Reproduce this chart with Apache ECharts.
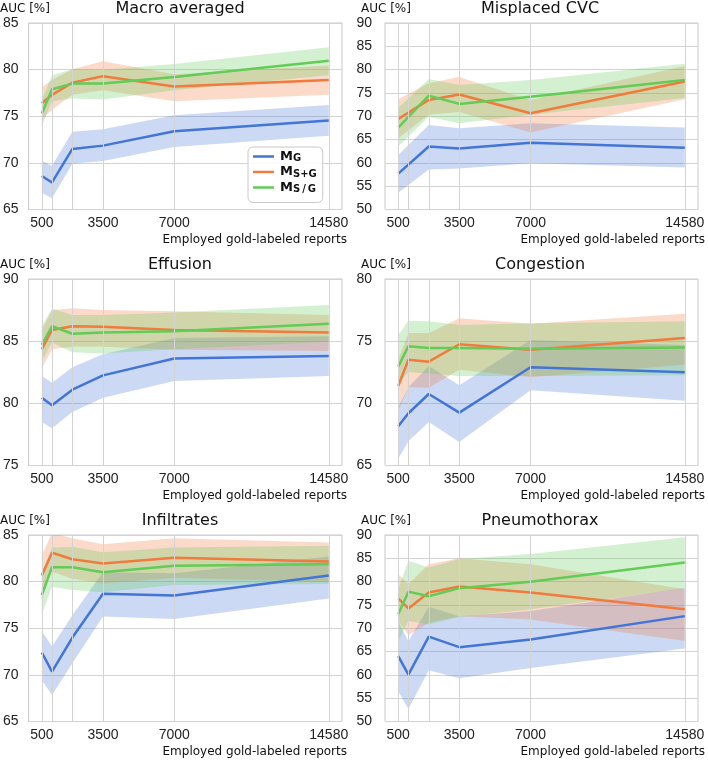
<!DOCTYPE html>
<html>
<head>
<meta charset="utf-8">
<script src="https://cdn.jsdelivr.net/npm/echarts@6/dist/echarts.min.js"></script>
<style>html,body{margin:0;padding:0;background:#fff}#c{width:708px;height:760px}</style>
</head>
<body>
<div id="c"></div>
<script>
// ---------- DATA ----------
const xFull = [500, 1000, 2000, 3500, 7000, 14580];
const xCVC = [500, 2000, 3500, 7000, 14580];
const xTickLabels = [500, 3500, 7000, 14580];
const xGridLines = [500, 1000, 2000, 3500, 7000, 14580];
const methodNames = ['M_G', 'M_S+G', 'M_S/G'];
const panelTitles = ['Macro averaged', 'Misplaced CVC', 'Effusion', 'Congestion', 'Infiltrates', 'Pneumothorax'];
const yRanges = [[65, 85], [50, 90], [75, 90], [65, 80], [65, 85], [50, 90]];

// Macro averaged
const macroG    = [68.6, 67.9, 71.5, 71.85, 73.4, 74.55];
const macroGLo  = [66.8, 66.2, 69.9, 70.2, 71.7, 72.9];
const macroGHi  = [70.2, 69.7, 73.35, 73.6, 75.1, 76.2];
const macroSG   = [76.4, 77.3, 78.6, 79.3, 78.2, 78.9];
const macroSGLo = [74.7, 75.7, 77.3, 77.8, 76.6, 77.3];
const macroSGHi = [78.1, 78.9, 80.05, 80.9, 79.5, 80.45];
const macroSdG   = [75.3, 77.9, 78.5, 78.5, 79.2, 80.95];
const macroSdGLo = [73.9, 76.6, 76.9, 76.8, 77.8, 79.4];
const macroSdGHi = [76.75, 79.4, 80.05, 80.0, 80.6, 82.4];

// Misplaced CVC (no 1000 point)
const cvcG    = [57.7, 63.5, 63.1, 64.3, 63.25];
const cvcGLo  = [53.6, 58.6, 58.8, 59.9, 59.0];
const cvcGHi  = [61.7, 68.1, 67.4, 68.5, 67.6];
const cvcSG   = [69.4, 73.5, 74.65, 70.65, 77.45];
const cvcSGLo = [65.3, 70.3, 70.9, 66.5, 73.65];
const cvcSGHi = [73.65, 77.1, 78.4, 73.5, 80.8];
const cvcSdG   = [67.55, 74.4, 72.65, 74.2, 77.8];
const cvcSdGLo = [63.5, 69.9, 68.5, 70.3, 73.9];
const cvcSdGHi = [71.7, 78.0, 76.7, 77.8, 81.25];

// Effusion
const effG    = [80.45, 79.85, 81.1, 82.25, 83.6, 83.8];
const effGLo  = [78.5, 78.0, 79.3, 80.45, 81.8, 82.2];
const effGHi  = [82.2, 81.65, 82.9, 83.95, 85.25, 85.4];
const effSG   = [84.35, 85.9, 86.2, 86.15, 85.9, 85.7];
const effSGLo = [82.8, 84.35, 84.55, 84.55, 84.3, 84.2];
const effSGHi = [85.9, 87.5, 87.65, 87.5, 87.4, 87.1];
const effSdG   = [84.7, 86.2, 85.6, 85.7, 85.8, 86.4];
const effSdGLo = [83.4, 84.9, 84.1, 84.0, 84.35, 84.95];
const effSdGHi = [86.25, 87.6, 87.1, 87.1, 87.3, 87.9];

// Congestion
const conG    = [68.15, 69.2, 70.75, 69.25, 72.9, 72.5];
const conGLo  = [65.55, 66.95, 68.5, 66.9, 71.05, 70.2];
const conGHi  = [69.7, 71.3, 73.0, 71.45, 75.1, 74.7];
const conSG   = [71.4, 73.5, 73.35, 74.75, 74.3, 75.25];
const conSGLo = [69.4, 71.3, 71.25, 72.7, 72.1, 73.1];
const conSGHi = [73.5, 75.65, 75.65, 76.85, 76.4, 77.2];
const conSdG   = [72.95, 74.6, 74.45, 74.45, 74.4, 74.5];
const conSdGLo = [71.6, 72.5, 72.4, 72.2, 72.2, 72.25];
const conSdGHi = [75.5, 76.65, 76.6, 76.3, 76.45, 76.6];

// Infiltrates
const infG    = [72.4, 70.35, 74.0, 78.7, 78.5, 80.65];
const infGLo  = [69.45, 67.85, 71.25, 76.25, 76.0, 78.2];
const infGHi  = [74.7, 73.05, 76.4, 81.0, 80.9, 82.7];
const infSG   = [80.65, 83.1, 82.4, 81.95, 82.55, 82.15];
const infSGLo = [78.6, 81.05, 80.3, 79.8, 80.4, 80.0];
const infSGHi = [82.85, 85.2, 84.65, 84.0, 84.65, 84.2];
const infSdG   = [78.55, 81.55, 81.55, 81.0, 81.7, 81.85];
const infSdGLo = [76.45, 79.45, 79.1, 78.85, 79.65, 79.75];
const infSdGHi = [80.9, 83.65, 83.75, 83.15, 83.65, 83.85];

// Pneumothorax
const pneG    = [64.0, 60.05, 68.2, 65.95, 67.6, 72.6];
const pneGLo  = [56.5, 52.7, 61.0, 59.3, 61.5, 65.65];
const pneGHi  = [71.55, 67.2, 74.6, 72.6, 73.7, 78.7];
const pneSG   = [76.4, 74.25, 77.65, 78.95, 77.65, 74.05];
const pneSGLo = [71.55, 68.5, 71.2, 72.6, 71.9, 67.25];
const pneSGHi = [81.6, 79.45, 83.75, 85.0, 83.75, 78.35];
const pneSdG   = [73.0, 77.85, 76.85, 78.6, 79.95, 84.1];
const pneSdGLo = [67.25, 71.55, 70.8, 72.4, 74.05, 78.6];
const pneSdGHi = [78.4, 84.5, 83.05, 84.85, 85.9, 89.5];

// ---------- BUILD ----------
const panels = [
  {x: xFull, m: [[macroG, macroGLo, macroGHi], [macroSG, macroSGLo, macroSGHi], [macroSdG, macroSdGLo, macroSdGHi]]},
  {x: xCVC,  m: [[cvcG, cvcGLo, cvcGHi], [cvcSG, cvcSGLo, cvcSGHi], [cvcSdG, cvcSdGLo, cvcSdGHi]]},
  {x: xFull, m: [[effG, effGLo, effGHi], [effSG, effSGLo, effSGHi], [effSdG, effSdGLo, effSdGHi]]},
  {x: xFull, m: [[conG, conGLo, conGHi], [conSG, conSGLo, conSGHi], [conSdG, conSdGLo, conSdGHi]]},
  {x: xFull, m: [[infG, infGLo, infGHi], [infSG, infSGLo, infSGHi], [infSdG, infSdGLo, infSdGHi]]},
  {x: xFull, m: [[pneG, pneGLo, pneGHi], [pneSG, pneSGLo, pneSGHi], [pneSdG, pneSdGLo, pneSdGHi]]}
];

const lineColors = ['#4375d6', '#f07b3d', '#62cc56'];
const bandColors = ['rgba(67,117,214,0.28)', 'rgba(240,123,61,0.28)', 'rgba(98,204,86,0.28)'];

const colLeft = [27, 385], colWidth = [315, 313];
const rowTop = [23, 279, 535], rowHeight = 186.5;
const gridColor = '#d3d3d3';
const labelFont = 'Liberation Sans, Arial, sans-serif';

const grids = [], xAxes = [], yAxes = [], series = [], graphics = [];
panels.forEach((p, i) => {
  const col = i % 2, row = Math.floor(i / 2);
  grids.push({left: colLeft[col], width: colWidth[col], top: rowTop[row], height: rowHeight,
    show: true, borderColor: '#c8c8c8', borderWidth: 1, backgroundColor: 'transparent'});
  xAxes.push({type: 'value', gridIndex: i, min: -150, max: 15230,
    axisLine: {show: false}, axisTick: {show: false}, splitLine: {show: false},
    axisLabel: {customValues: xTickLabels, formatter: v => String(v), margin: 7, fontSize: 14, color: '#222', fontFamily: labelFont}});
  yAxes.push({type: 'value', gridIndex: i, min: yRanges[i][0], max: yRanges[i][1], interval: 5,
    axisLine: {show: false}, axisTick: {show: false},
    splitLine: {show: true, lineStyle: {color: gridColor, width: 1}},
    axisLabel: {margin: col === 0 ? 10 : 13, fontSize: 14, color: '#222', fontFamily: labelFont}});
  // vertical grid lines
  series.push({type: 'line', xAxisIndex: i, yAxisIndex: i, data: [], silent: true, z: 1,
    markLine: {silent: true, symbol: ['none', 'none'], label: {show: false}, animation: false,
      lineStyle: {color: gridColor, width: 1, type: 'solid'},
      emphasis: {disabled: true},
      data: xGridLines.map(v => ({xAxis: v}))}});
  // confidence bands
  p.m.forEach((arr, m) => {
    const lo = arr[1], hi = arr[2], xs = p.x;
    series.push({type: 'custom', xAxisIndex: i, yAxisIndex: i, silent: true, z: 2,
      data: xs.map((x, k) => [x, lo[k], hi[k]]),
      encode: {x: 0, y: [1, 2]},
      renderItem: (params, api) => {
        if (params.dataIndex !== 0) return null;
        const pts = [];
        for (let k = 0; k < xs.length; k++) pts.push(api.coord([xs[k], hi[k]]));
        for (let k = xs.length - 1; k >= 0; k--) pts.push(api.coord([xs[k], lo[k]]));
        const cs = params.coordSys;
        return {type: 'polygon', shape: {points: pts},
          style: {fill: bandColors[m], stroke: null},
          clipPath: {type: 'rect', shape: {x: cs.x, y: cs.y, width: cs.width, height: cs.height}}};
      }});
  });
  // mean lines
  p.m.forEach((arr, m) => {
    series.push({type: 'line', name: methodNames[m], xAxisIndex: i, yAxisIndex: i, z: 3,
      symbol: 'none', lineStyle: {color: lineColors[m], width: 2.5}, itemStyle: {color: lineColors[m]},
      data: p.x.map((x, k) => [x, arr[0][k]])});
  });
  // texts
  const cx = col === 0 ? 180 : 540;
  const yOff = row * 256;
  graphics.push({type: 'text', x: cx, y: 8.5 + yOff,
    style: {text: panelTitles[i], fontSize: 16, fontFamily: 'DejaVu Sans', fill: '#111', align: 'center', verticalAlign: 'middle'}});
  graphics.push({type: 'text', x: col === 0 ? 0 : 361, y: 8.5 + yOff,
    style: {text: 'AUC [%]', fontSize: 12, fontFamily: 'DejaVu Sans', fill: '#111', align: 'left', verticalAlign: 'middle'}});
  graphics.push({type: 'text', x: col === 0 ? 347 : 705, y: 240 + yOff,
    style: {text: 'Employed gold-labeled reports', fontSize: 12, fontFamily: 'DejaVu Sans', fill: '#111', align: 'right', verticalAlign: 'middle'}});
});

const legendLabels = {'M_G': '{m|M}{s|G}', 'M_S+G': '{m|M}{s|S+G}', 'M_S/G': '{m|M}{s|S\u2009/\u2009G}'};

const option = {
  animation: false,
  grid: grids, xAxis: xAxes, yAxis: yAxes, series: series,
  graphic: graphics,
  legend: {
    data: methodNames, orient: 'vertical', left: 248, top: 147,
    icon: 'rect', itemWidth: 21, itemHeight: 2.5, itemGap: 2,
    padding: [3, 6, 8, 5],
    backgroundColor: 'rgba(255,255,255,0.85)', borderColor: '#c8c8c8', borderWidth: 1, borderRadius: 5,
    selectedMode: false,
    formatter: n => legendLabels[n],
    textStyle: {
      color: '#111', padding: [0, 0, 0, 1],
      rich: {
        m: {fontSize: 13, fontWeight: 'bold', fontFamily: 'DejaVu Sans', lineHeight: 14, color: '#111'},
        s: {fontSize: 10, fontWeight: 'bold', fontFamily: 'DejaVu Sans', lineHeight: 6, verticalAlign: 'bottom', color: '#111'}
      }
    }
  }
};

const chart = echarts.init(document.getElementById('c'), null, {renderer: 'canvas'});
chart.setOption(option);
</script>
</body>
</html>
